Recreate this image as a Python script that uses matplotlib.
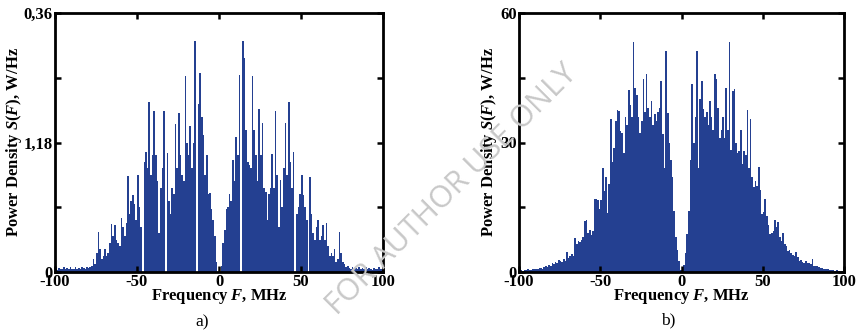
import numpy as np
import matplotlib
matplotlib.use("Agg")
import matplotlib.pyplot as plt

# 1-MHz frequency bins from -100 to 100 MHz (bin centres)
freq_bins = np.arange(-99.5, 100.0, 1.0)

# Panel a) spectrum, in units of one y-tick step (0.09 W/Hz), bins -100..-1 MHz
a_neg = [0.05, 0.03, 0.06, 0.04, 0.05, 0.08, 0.04, 0.06, 0.05, 0.07,
         0.05, 0.04, 0.07, 0.05, 0.06, 0.04, 0.08, 0.06, 0.05, 0.07,
         0.06, 0.08, 0.10, 0.20, 0.12, 0.30, 0.62, 0.35, 0.20, 0.25,
         0.36, 0.25, 0.30, 0.45, 0.74, 0.55, 0.72, 0.50, 0.45, 0.40,
         0.83, 0.70, 0.55, 0.75, 1.48, 0.90, 1.10, 1.19, 1.05, 0.80,
         1.50, 1.00, 0.70, 0.00, 1.70, 1.86, 1.60, 2.63, 1.50, 1.80,
         2.49, 1.80, 1.40, 0.60, 1.30, 1.60, 2.49, 0.00, 1.84, 1.10,
         0.90, 1.30, 1.20, 2.28, 1.60, 2.46, 1.80, 1.50, 1.40, 3.03,
         2.00, 1.80, 2.25, 1.60, 2.00, 3.56, 0.00, 2.60, 3.07, 2.40,
         2.12, 1.50, 1.80, 1.20, 1.22, 0.98, 0.80, 0.55, 0.15, 0.00]
# Panel a) bins 0..99 MHz
a_pos = [0.00, 0.10, 0.45, 0.65, 0.98, 1.00, 1.21, 1.10, 1.73, 1.40,
         2.08, 1.80, 3.05, 0.00, 3.56, 3.30, 2.20, 1.70, 1.65, 1.60,
         3.02, 2.20, 1.80, 1.40, 2.51, 1.80, 2.30, 1.30, 1.24, 0.80,
         1.20, 1.30, 1.83, 1.30, 2.48, 1.50, 0.70, 1.42, 1.00, 1.60,
         2.30, 1.50, 2.63, 1.70, 1.30, 1.86, 0.00, 0.90, 1.00, 1.20,
         1.50, 1.19, 1.00, 0.80, 0.00, 1.46, 0.90, 0.60, 0.50, 0.70,
         0.80, 0.50, 0.55, 0.72, 0.50, 0.75, 0.40, 0.25, 0.30, 0.25,
         0.36, 0.15, 0.20, 0.62, 0.30, 0.15, 0.12, 0.08, 0.10, 0.06,
         0.05, 0.07, 0.04, 0.06, 0.05, 0.08, 0.04, 0.06, 0.05, 0.07,
         0.04, 0.06, 0.05, 0.03, 0.06, 0.04, 0.05, 0.07, 0.04, 0.05]

# Panel b) spectrum (W/Hz), bins -100..-1 MHz
b_neg = [0.3, 0.4, 0.3, 0.5, 0.4, 0.6, 0.5, 0.5, 0.7, 0.6,
         0.8, 0.7, 0.9, 1.0, 0.8, 1.1, 1.4, 1.2, 1.6, 1.3,
         2.2, 1.8, 2.4, 2.0, 2.7, 2.5, 2.3, 3.0, 2.6, 4.6,
         3.2, 3.6, 4.1, 3.8, 7.9, 6.5, 7.2, 6.9, 7.5, 8.0,
         11.9, 12.0, 9.0, 9.8, 8.5, 9.5, 16.9, 17.0, 16.7, 14.5,
         16.6, 24.2, 18.8, 21.9, 13.6, 20.5, 35.5, 25.5, 28.8, 35.0,
         37.5, 37.3, 32.6, 32.3, 27.5, 35.8, 34.0, 42.2, 38.8, 36.0,
         53.3, 42.7, 41.0, 36.0, 32.2, 35.0, 44.8, 37.0, 45.9, 38.0,
         36.0, 39.6, 34.0, 36.5, 35.0, 37.0, 38.0, 44.3, 32.0, 24.0,
         51.1, 36.9, 30.0, 26.0, 22.0, 14.2, 8.0, 5.0, 2.5, 0.5]
# Panel b) bins 0..99 MHz
b_pos = [0.5, 1.7, 4.5, 8.8, 14.2, 26.0, 43.5, 30.0, 36.0, 51.1,
         24.0, 40.0, 44.3, 37.7, 36.0, 37.0, 34.0, 39.6, 36.0, 33.0,
         45.9, 44.8, 38.0, 31.0, 33.0, 36.0, 31.0, 42.7, 33.0, 53.3,
         28.3, 42.0, 42.3, 30.0, 27.5, 28.0, 32.8, 25.0, 28.0, 27.0,
         37.5, 24.0, 35.5, 22.0, 19.7, 21.0, 20.0, 24.4, 19.0, 13.4,
         14.0, 17.0, 13.0, 11.0, 8.8, 9.0, 9.5, 12.0, 10.5, 11.5,
         8.0, 7.2, 9.1, 6.5, 6.0, 4.8, 5.0, 4.5, 4.0, 3.8,
         4.7, 3.5, 2.5, 2.8, 2.3, 2.2, 2.5, 2.0, 2.1, 1.8,
         2.9, 1.5, 1.3, 1.5, 1.1, 1.0, 0.9, 0.8, 0.7, 0.8,
         0.6, 0.5, 0.5, 0.4, 0.3, 0.4, 0.3, 0.3, 0.2, 0.2]

a_tick_step = 0.09
x_ticks = [-100, -50, 0, 50, 100]
x_tick_labels = ['-100', '-50', '0', '50', '100']
a_yticks = [0, 0.09, 0.18, 0.27, 0.36]
a_ylabels = ['0', '', '1,18', '', '0,36']
b_yticks = [0, 15, 30, 45, 60]
b_ylabels = ['0', '', '30', '', '60']

plt.rcParams['font.family'] = ['Liberation Serif', 'DejaVu Serif']
plt.rcParams['mathtext.fontset'] = 'custom'
plt.rcParams['mathtext.it'] = 'Liberation Serif:italic:bold'
plt.rcParams['mathtext.rm'] = 'Liberation Serif:bold'
plt.rcParams['mathtext.bf'] = 'Liberation Serif:bold'

W, H = 866, 332
fig = plt.figure(figsize=(W / 100, H / 100), dpi=100)
ax1 = fig.add_axes([55 / W, 1 - 272 / H, 328 / W, 259 / H])
ax2 = fig.add_axes([519 / W, 1 - 272 / H, 325 / W, 259 / H])
blue = '#244091'

a_vals = np.array(a_neg + a_pos) * a_tick_step
b_vals = np.array(b_neg + b_pos)
ax1.bar(freq_bins, a_vals, width=1.0, color=blue, linewidth=0)
ax2.bar(freq_bins, b_vals, width=1.0, color=blue, linewidth=0)


def style(ax, yticks, ylabels, ylabelpad):
    ax.set_xlim(-100, 100)
    ax.set_ylim(yticks[0], yticks[-1])
    ax.set_xticks(x_ticks)
    ax.set_xticklabels(x_tick_labels)
    ax.set_yticks(yticks)
    ax.set_yticklabels(ylabels)
    ax.tick_params(direction='in', top=True, right=True, length=4, width=1.8,
                   labelsize=12, pad=1.5)
    for lab in ax.get_xticklabels() + ax.get_yticklabels():
        lab.set_fontweight('bold')
    for s in ax.spines.values():
        s.set_linewidth(2)
    ax.set_xlabel(r'Frequency $F$, MHz', fontsize=12, fontweight='bold', labelpad=-2.5)
    ax.set_ylabel(r'Power Density $S(F)$, W/Hz', fontsize=12, fontweight='bold',
                  labelpad=ylabelpad)


style(ax1, a_yticks, a_ylabels, 0)
style(ax2, b_yticks, b_ylabels, 1)

fig.text(202 / W, 1 - 322 / H, 'a)', fontsize=12.5, ha='center', va='center')
fig.text(668 / W, 1 - 320 / H, 'b)', fontsize=12.5, ha='center', va='center')

fig.text(452 / W, 1 - 190 / H, 'FOR AUTHOR USE ONLY', rotation=45, fontsize=22,
         family=['Open Sans', 'DejaVu Sans'], color='#c8c8c8', ha='center', va='center',
         zorder=10)

fig.savefig('out.png', dpi=100, facecolor='white')
